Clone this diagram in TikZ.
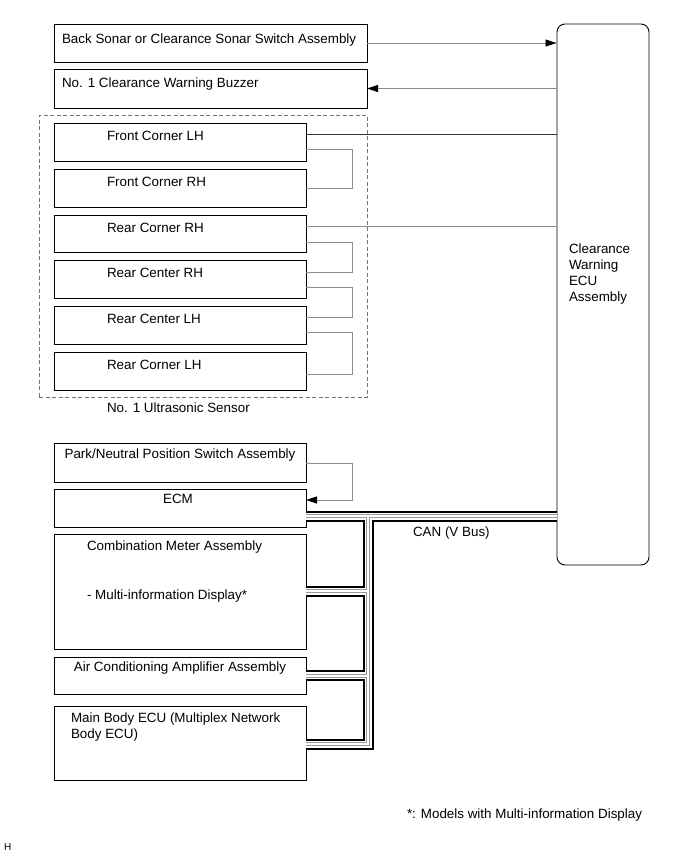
\documentclass[tikz,border=0pt]{standalone}
\usepackage{fontspec}
\setmainfont{Liberation Sans}
\usetikzlibrary{arrows.meta,calc}
\begin{document}
\begin{tikzpicture}[x=1pt,y=-1pt,
  box/.style={draw=black, line width=0.9pt, inner sep=0pt, outer sep=0pt, minimum width=252pt},
  lbl/.style={font=\fontsize{13.4}{16}\selectfont, inner sep=0pt, outer sep=0pt},
  wire/.style={draw=black!80, line width=0.8pt},
  gwire/.style={draw=black!45, line width=0.8pt},
  arr/.style={-{Triangle[length=11pt,width=7pt,black]}},
  canA/.style={line width=11pt, black},
  canB/.style={line width=7pt, white},
  canC/.style={line width=4pt, black!40},
  canD/.style={line width=2pt, white}
]
\useasboundingbox[fill=white] (0,0) rectangle (691,854);

% ECU
\node[draw=black, line width=0.9pt, rounded corners=8pt, minimum width=92pt, minimum height=541pt, inner sep=0pt] (ecu) at (603,294.5) {};
\node[lbl, anchor=base west, align=left] (ecut) at (569,301.5) {Clearance\\Warning\\ECU\\Assembly};

% top boxes
\node[box, minimum width=313pt, minimum height=38pt] (bs) at (210.5,43) {};
\node[lbl, anchor=base west] (bst) at (62,43) {Back Sonar or Clearance Sonar Switch Assembly};
\node[box, minimum width=313pt, minimum height=39pt] (buz) at (210.5,88.5) {};
\node[lbl, anchor=base west] (buzt) at (62,87) {No. 1 Clearance Warning Buzzer};

% sensor group
\node[draw=black!55, dashed, dash pattern=on 4pt off 2.5pt, line width=0.8pt, minimum width=328pt, minimum height=282pt, inner sep=0pt] (grp) at (203,256) {};
\node[lbl, anchor=base west] (grpt) at (107,412) {No. 1 Ultrasonic Sensor};

\node[box, minimum height=38pt] (fcl) at (180,142) {};
\node[lbl, anchor=base west] (fclt) at (107,140) {Front Corner LH};
\node[box, minimum height=38pt] (fcr) at (180,188) {};
\node[lbl, anchor=base west] (fcrt) at (107,186) {Front Corner RH};
\node[box, minimum height=37pt] (rcr) at (180,233.5) {};
\node[lbl, anchor=base west] (rcrt) at (107,232) {Rear Corner RH};
\node[box, minimum height=38pt] (rnr) at (180,279) {};
\node[lbl, anchor=base west] (rnrt) at (107,277) {Rear Center RH};
\node[box, minimum height=38pt] (rnl) at (180,325) {};
\node[lbl, anchor=base west] (rnlt) at (107,323) {Rear Center LH};
\node[box, minimum height=38pt] (rcl) at (180,371) {};
\node[lbl, anchor=base west] (rclt) at (107,369) {Rear Corner LH};

% lower boxes
\node[box, minimum height=39pt] (pn) at (180,462.5) {};
\node[lbl, anchor=base] (pnt) at (180,458) {Park/Neutral Position Switch Assembly};
\node[box, minimum height=38pt] (ecm) at (180,508) {};
\node[lbl, anchor=base] (ecmt) at (178,503) {ECM};
\node[box, minimum height=115pt] (cm) at (180,591.5) {};
\node[lbl, anchor=base west] (cmt) at (87,550) {Combination Meter Assembly};
\node[lbl, anchor=base west] (cmt2) at (87,599.5) {- Multi-information Display*};
\node[box, minimum height=37pt] (ac) at (180,675.5) {};
\node[lbl, anchor=base] (act) at (180,671) {Air Conditioning Amplifier Assembly};
\node[box, minimum height=74pt] (mb) at (180,743) {};
\node[lbl, anchor=base west, align=left] (mbt) at (71,738) {Main Body ECU (Multiplex Network\\Body ECU)};

% labels
\node[lbl, anchor=base west] (cant) at (413,536) {CAN (V Bus)};
\node[lbl, anchor=base west] (note) at (407,818) {*: Models with Multi-information Display};
\node[font=\fontsize{10}{12}\selectfont, inner sep=0pt, anchor=base west] (hmark) at (4,850) {H};

% arrows
\draw[gwire, arr] (bs.east) -- (bs.east -| ecu.west);
\draw[gwire, arr] (buz.east -| ecu.west) -- (buz.east);

% sensor wires
\draw[wire] ([yshift=-11pt]fcl.north east) coordinate (w1) -- (w1 -| ecu.west);
\draw[gwire] ([yshift=-11pt]rcr.north east) coordinate (w2) -- (w2 -| ecu.west);
\draw[gwire] ([yshift=-26pt]fcl.north east) -- ++(46,0) |- ([yshift=-19pt]fcr.north east);
\draw[gwire] ([yshift=-27pt]rcr.north east) -- ++(46,0) |- ([yshift=-12pt]rnr.north east);
\draw[gwire] ([yshift=-27pt]rnr.north east) -- ++(46,0) |- ([yshift=-11pt]rnl.north east);
\draw[gwire] ([yshift=-26pt]rnl.north east) -- ++(46,0) |- ([yshift=-22pt]rcl.north east);

% park/neutral to ECM
\draw[gwire, arr] ([yshift=-20pt]pn.north east) -- ++(46,0) |- ([yshift=-11pt]ecm.north east);

% CAN bus
\coordinate (ca) at ([yshift=-8pt]ecm.east);
\coordinate (cb) at (ca -| ecu.west);
\coordinate (tj) at (368,516);
\coordinate (tb) at (368,744);
\coordinate (cmb) at ([yshift=-57pt]cm.north east);
\coordinate (acb) at ([yshift=-18.5pt]ac.north east);
\coordinate (mbb) at ([yshift=-38pt]mb.north east);
\foreach \s in {canA,canB,canC,canD}{
  \draw[\s] (ca) -- (cb);
  \draw[\s, line join=miter] (tj) -- (tb) -- (mbb);
  \draw[\s] (cmb) -- (cmb -| tj);
  \draw[\s] (acb) -- (acb -| tj);
}
\end{tikzpicture}
\end{document}
